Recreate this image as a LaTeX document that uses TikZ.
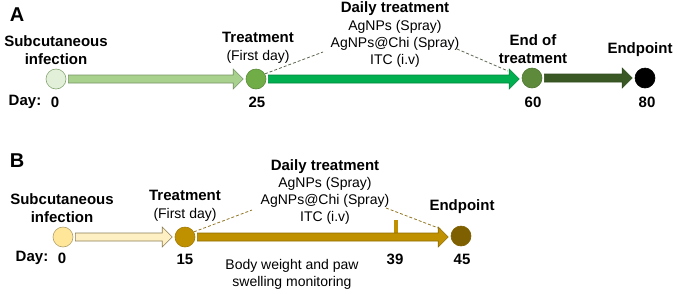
\documentclass[tikz,border=0pt]{standalone}
\usepackage{fontspec}
\setmainfont{Liberation Sans}
\usetikzlibrary{positioning,calc}
\definecolor{pale-green}{HTML}{E2F0D9}
\definecolor{light-green}{HTML}{A9D18E}
\definecolor{mid-green}{HTML}{70AD47}
\definecolor{bright-green}{HTML}{00B050}
\definecolor{olive-green}{HTML}{5E8B3B}
\definecolor{dark-green}{HTML}{3A5824}
\definecolor{pale-yellow}{HTML}{FFE699}
\definecolor{cream}{HTML}{FFF0C4}
\definecolor{gold}{HTML}{BF9000}
\definecolor{dark-gold}{HTML}{7F6000}
\definecolor{guide-grey}{HTML}{5C6650}

% block arrow between two nodes: style, from, to
\newcommand{\timearrow}[3]{%
  \path[#1] let \p1=($(#2.east)+(2,0)$), \p2=($(#3.west)+(-2.5,0)$) in
    (\x1,\y1+4pt) -- (\x2-10pt,\y1+4pt) -- (\x2-10pt,\y1+10pt) -- (\x2,\y1)
    -- (\x2-10pt,\y1-10pt) -- (\x2-10pt,\y1-4pt) -- (\x1,\y1-4pt) -- cycle;}

\begin{document}
\begin{tikzpicture}[x=1pt, y=-1pt,
  dot/.style={circle, inner sep=0pt, minimum size=20pt, line width=0.6pt},
  panel/.style={font=\fontsize{20}{24}\selectfont\bfseries, inner sep=0pt},
  head/.style={font=\fontsize{15}{18}\selectfont\bfseries, align=center, inner sep=0pt},
  note/.style={font=\fontsize{14}{17}\selectfont, align=center, inner sep=0pt},
  guide/.style={dashed, dash pattern=on 3pt off 2pt, line width=0.8pt},
  tick/.style={line width=4pt, draw=gold}
]
  \useasboundingbox (0,0) rectangle (678,293);

  % ---- panel A
  \node[panel] (labA) at (17,15) {A};
  \node[dot, fill=pale-green, draw=light-green!80!black] (a0) at (56,79) {};
  \node[dot, fill=mid-green, draw=mid-green!80!black] (a25) at (256,79) {};
  \node[dot, fill=olive-green, draw=olive-green!85!black] (a60) at (532,78) {};
  \node[dot, fill=black, draw=black] (a80) at (645,78) {};
  \timearrow{fill=light-green, draw=light-green!70!black, line width=0.6pt}{a0}{a25}
  \timearrow{fill=bright-green, draw=bright-green!75!black, line width=0.6pt}{a25}{a60}
  \timearrow{fill=dark-green, draw=dark-green!85!black, line width=0.6pt}{a60}{a80}

  \node[head] (infA) at (56,50) {Subcutaneous\\infection};
  \node[head] (treatA) at (258,37) {Treatment};
  \node[note, below=7.5pt of treatA] (firstA) {(First day)};
  \node[head] (dailyA) at (395,9) {Daily treatment};
  \node[note] (drugsA) at (395,44) {AgNPs (Spray)\\AgNPs@Chi (Spray)\\ITC (i.v)};
  \node[head] (endA) at (533,49) {End of\\treatment};
  \node[head] (pointA) at (640,50) {Endpoint};

  \node[head] (dayA) at (25,102) {Day:};
  \node[head] (d0A) at (55,102) {0};
  \node[head] (d25A) at (257,102) {25};
  \node[head] (d60A) at (533,102) {60};
  \node[head] (d80A) at (647,102) {80};

  \coordinate (gA1) at (323,52);
  \coordinate (gA2) at (457,49);
  \coordinate (gA3) at (508,71);
  \draw[guide, draw=guide-grey] (a25.30) -- (gA1);
  \draw[guide, draw=guide-grey] (gA2) -- (gA3);

  % ---- panel B
  \node[panel] (labB) at (17,161) {B};
  \node[dot, fill=pale-yellow, draw=pale-yellow!70!black] (b0) at (63,237) {};
  \node[dot, fill=gold, draw=gold!85!black] (b15) at (185,237) {};
  \node[dot, fill=dark-gold, draw=dark-gold] (b45) at (461,236) {};
  \coordinate (b39) at (396,237);
  \draw[tick] (b39) -- ++(0,-17);
  \timearrow{fill=cream, draw=pale-yellow!55!black, line width=0.6pt}{b0}{b15}
  \timearrow{fill=gold, draw=gold!75!black, line width=0.6pt}{b15}{b45}

  \node[head] (infB) at (62,208) {Subcutaneous\\infection};
  \node[head] (treatB) at (185,195) {Treatment};
  \node[note, below=7.5pt of treatB] (firstB) {(First day)};
  \node[head] (dailyB) at (325,167) {Daily treatment};
  \node[note] (drugsB) at (325,201) {AgNPs (Spray)\\AgNPs@Chi (Spray)\\ITC (i.v)};
  \node[head] (pointB) at (462,207) {Endpoint};
  \node[note] (watchB) at (292,274) {Body weight and paw\\swelling monitoring};

  \node[head] (dayB) at (32,258) {Day:};
  \node[head] (d0B) at (62,258) {0};
  \node[head] (d15B) at (185,259) {15};
  \node[head] (d39B) at (395,259) {39};
  \node[head] (d45B) at (462,259) {45};

  \coordinate (gB1) at (252,210);
  \coordinate (gB2) at (386,208);
  \coordinate (gB3) at (441,229);
  \draw[guide, draw=dark-gold!85] (b15.30) -- (gB1);
  \draw[guide, draw=dark-gold!85] (gB2) -- (gB3);
\end{tikzpicture}
\end{document}
